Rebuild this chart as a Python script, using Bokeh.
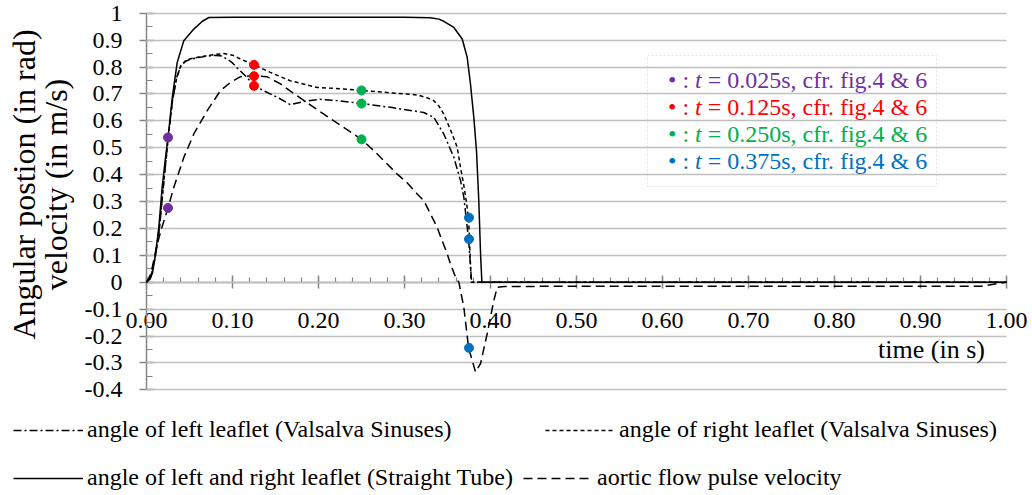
import math
from bokeh.plotting import figure
from bokeh.models import (Range1d, FixedTicker, NumeralTickFormatter, Label, Grid,
                          BoxAnnotation, Legend, LegendItem, ColumnDataSource,
                          CustomJSTickFormatter)
from bokeh.embed import file_html
from bokeh.resources import INLINE

FONT = "Liberation Serif"

# ---------------- data ----------------
left_t = [0, 0.005, 0.01, 0.015, 0.02, 0.025, 0.03, 0.035, 0.04, 0.045, 0.05, 0.06,
          0.07, 0.08, 0.086, 0.0938, 0.1, 0.105, 0.117, 0.125, 0.14, 0.1558, 0.1674,
          0.183, 0.202, 0.2217, 0.25, 0.2837, 0.3223, 0.334, 0.3457, 0.3574, 0.3651,
          0.369, 0.3745, 0.3765, 0.378, 1.0]
left_v = [0, 0.02, 0.09, 0.2, 0.37, 0.53, 0.67, 0.76, 0.805, 0.82, 0.828, 0.835,
          0.84, 0.843, 0.842, 0.83, 0.815, 0.798, 0.761, 0.730, 0.706, 0.681, 0.66,
          0.672, 0.68, 0.675, 0.664, 0.65, 0.631, 0.613, 0.551, 0.464, 0.378,
          0.316, 0.16, 0.07, 0, 0]

right_t = [0, 0.005, 0.01, 0.015, 0.02, 0.025, 0.03, 0.035, 0.04, 0.045, 0.05, 0.06,
           0.07, 0.08, 0.09, 0.1, 0.109, 0.125, 0.144, 0.167, 0.1985, 0.22, 0.25,
           0.2915, 0.315, 0.326, 0.334, 0.34, 0.3457, 0.3554, 0.3613, 0.3651, 0.369,
           0.3717, 0.3745, 0.376, 0.3776, 1.0]
right_v = [0, 0.02, 0.09, 0.2, 0.37, 0.53, 0.67, 0.76, 0.805, 0.822, 0.83, 0.836,
           0.842, 0.847, 0.85, 0.844, 0.83, 0.808, 0.78, 0.749, 0.724, 0.72, 0.713,
           0.702, 0.696, 0.686, 0.675, 0.655, 0.625, 0.551, 0.501, 0.427, 0.36,
           0.303, 0.24, 0.12, 0, 0]

tube_t = [0, 0.004, 0.007, 0.0105, 0.0143, 0.0182, 0.0221, 0.025, 0.03, 0.0357,
          0.0434, 0.055, 0.065, 0.0725, 0.1, 0.2, 0.3, 0.33, 0.34, 0.3457, 0.3574,
          0.3671, 0.3729, 0.3767, 0.3806, 0.3837, 0.3864, 0.3885, 0.39, 0.5, 1.0]
tube_v = [0, 0.01, 0.035, 0.105, 0.204, 0.353, 0.464, 0.538, 0.687, 0.817,
          0.898, 0.941, 0.97, 0.984, 0.985, 0.985, 0.985, 0.983, 0.978, 0.970, 0.947,
          0.904, 0.836, 0.737, 0.613, 0.489, 0.303, 0.1, 0, 0, 0]

aorta_t = [0, 0.005, 0.0116, 0.0175, 0.025, 0.0318, 0.0434, 0.055, 0.0706, 0.086,
           0.0977, 0.1093, 0.125, 0.14, 0.1558, 0.175, 0.1946, 0.2062, 0.25, 0.2643,
           0.276, 0.2915, 0.303, 0.3147, 0.3225, 0.3283, 0.338, 0.3419, 0.3497,
           0.3535, 0.3593, 0.3632, 0.369, 0.3745, 0.3787, 0.3826, 0.3884, 0.3961,
           0.4039, 0.4078, 0.416, 0.5, 0.6, 0.7, 0.8, 0.9, 0.97, 1.0]
aorta_v = [0, 0.03, 0.13, 0.2, 0.276, 0.353, 0.464, 0.551, 0.638, 0.712,
           0.743, 0.764, 0.768, 0.764, 0.737, 0.693, 0.65, 0.625, 0.531, 0.489,
           0.452, 0.402, 0.37, 0.328, 0.303, 0.266, 0.204, 0.17, 0.105,
           0.068, 0.019, 0, -0.093, -0.244, -0.291, -0.334, -0.303, -0.192,
           -0.068, -0.019, -0.016, -0.015, -0.015, -0.015, -0.015, -0.015, -0.015, 0]

marker_t = [0.025, 0.025, 0.125, 0.125, 0.125, 0.25, 0.25, 0.25, 0.375, 0.375, 0.375]
marker_v = [0.538, 0.276, 0.808, 0.766, 0.730, 0.713, 0.664, 0.531, 0.240, 0.160, -0.244]
marker_c = ["#7030A0", "#7030A0", "#FF0000", "#FF0000", "#FF0000",
            "#00B050", "#00B050", "#00B050", "#0070C0", "#0070C0", "#0070C0"]

key_times = ["0.025s", "0.125s", "0.250s", "0.375s"]
key_colors = ["#7030A0", "#FF0000", "#00B050", "#0070C0"]
key_rows = [0.75, 0.65, 0.55, 0.45]

x_ticks = [0, 0.1, 0.2, 0.3, 0.4, 0.5, 0.6, 0.7, 0.8, 0.9, 1.0]
y_ticks = [-0.4, -0.3, -0.2, -0.1, 0, 0.1, 0.2, 0.3, 0.4, 0.5, 0.6, 0.7, 0.8, 0.9, 1.0]
y_tick_labels = ["-0.4", "-0.3", "-0.2", "-0.1", "0", "0.1", "0.2", "0.3", "0.4",
                 "0.5", "0.6", "0.7", "0.8", "0.9", "1"]
x_minor = [round(i * 0.02, 2) for i in range(51)]
y_minor = [round(-0.4 + i * 0.05, 2) for i in range(29)]

series_names = ["angle of left leaflet (Valsalva Sinuses)",
                "angle of right leaflet (Valsalva Sinuses)",
                "angle of left and right leaflet (Straight Tube)",
                "aortic flow pulse velocity"]

# ---------------- layout: the frame covers the whole canvas ----------------
W, H = 1032, 495
X0PX, X1PX = 146.0, 1006.0        # pixel columns of t = 0 and t = 1
Y0PX, Y1PX = 281.7, 12.7          # pixel rows of v = 0 and v = 1
sx = (X1PX - X0PX)
sy = (Y0PX - Y1PX)
x_start, x_end = -X0PX / sx, (W - X0PX) / sx
y_start, y_end = (Y0PX - H) / sy, Y0PX / sy


def py2v(py):
    return (Y0PX - py) / sy


p = figure(width=W, height=H, output_backend="svg", toolbar_location=None,
           x_range=Range1d(x_start, x_end), y_range=Range1d(y_start, y_end),
           min_border=0, min_border_left=0, min_border_right=0,
           min_border_top=0, min_border_bottom=0)
p.outline_line_color = None
p.xgrid.visible = False
p.ygrid.visible = False

# horizontal grid limited to the data area
if "cross_bounds" in Grid.properties():
    g = Grid(dimension=1, ticker=FixedTicker(ticks=y_ticks), cross_bounds=(0, 1),
             grid_line_color="#BFBFBF", grid_line_width=1.5, level="underlay")
    p.add_layout(g)
else:
    p.segment(x0=[0] * len(y_ticks), x1=[1] * len(y_ticks), y0=y_ticks, y1=y_ticks,
              line_color="#BFBFBF", line_width=1.5, level="underlay")

AX = "#868686"
xa = p.xaxis[0]
xa.ticker = FixedTicker(ticks=x_ticks, minor_ticks=x_minor)
xa.formatter = NumeralTickFormatter(format="0.00")
xa.fixed_location = 0
xa.bounds = (0, 1)
xa.level = "underlay"
xa.axis_line_color = AX
xa.axis_line_width = 1.5
xa.major_tick_line_color = AX
xa.minor_tick_line_color = AX
xa.major_tick_line_width = 1.5
xa.minor_tick_line_width = 1.2
xa.major_tick_in = 7
xa.major_tick_out = 6
xa.minor_tick_in = 5
xa.minor_tick_out = 0
xa.major_label_standoff = 25
xa.major_label_text_font = FONT
xa.major_label_text_font_size = "24px"
xa.major_label_text_color = "black"

ya = p.yaxis[0]
ya.ticker = FixedTicker(ticks=y_ticks, minor_ticks=y_minor)
ya.formatter = CustomJSTickFormatter(
    args=dict(tick_values=y_ticks, tick_texts=y_tick_labels),
    code=("const i = tick_values.findIndex(v => Math.abs(v - tick) < 1e-6);"
          " return i >= 0 ? tick_texts[i] : '';"))
ya.fixed_location = 0
ya.bounds = (-0.4, 1.0)
ya.level = "underlay"
ya.axis_line_color = AX
ya.axis_line_width = 1.5
ya.major_tick_line_color = AX
ya.minor_tick_line_color = AX
ya.major_tick_line_width = 1.5
ya.minor_tick_line_width = 1.2
ya.major_tick_in = 7
ya.major_tick_out = 7
ya.minor_tick_in = 6
ya.minor_tick_out = 0
ya.major_label_standoff = 17
ya.major_label_text_font = FONT
ya.major_label_text_font_size = "24px"
ya.major_label_text_color = "black"

# ---------------- curves ----------------
common = dict(line_color="black", line_width=1.5, line_join="round")
r_left = p.line(left_t, left_v, line_dash="8 3 2 3", **common)
r_right = p.line(right_t, right_v, line_dash="4 3", **common)
r_tube = p.line(tube_t, tube_v, **common)
r_aorta = p.line(aorta_t, aorta_v, line_dash="9 5", **common)

src = ColumnDataSource(dict(t=marker_t, v=marker_v, c=marker_c))
p.scatter("t", "v", source=src, size=9, fill_color="c", line_color="c")

# ---------------- bottom legend (two rows) ----------------
def add_leg(renderer, name, x, y):
    leg = Legend(items=[LegendItem(label=name, renderers=[renderer])],
                 location=(x, y), orientation="horizontal", padding=0, margin=0,
                 border_line_color=None, background_fill_alpha=0,
                 glyph_width=70, glyph_height=20, label_standoff=4,
                 label_text_font=FONT, label_text_font_size="24px",
                 label_text_color="black")
    p.add_layout(leg)

add_leg(r_left, series_names[0], 13, 52)
add_leg(r_right, series_names[1], 545, 52)
add_leg(r_tube, series_names[2], 13, 4)
add_leg(r_aorta, series_names[3], 523, 4)

# ---------------- marker key box ----------------
p.add_layout(BoxAnnotation(left=647, right=936, left_units="screen", right_units="screen",
                           top=py2v(55), bottom=py2v(186), fill_alpha=0,
                           line_color="#A6A6A6", line_width=1, line_dash="2 2"))
KX = 667.5
KF = 24
for tt, col, yy in zip(key_times, key_colors, key_rows):
    base = dict(y=yy, x_units="screen", y_units="data", text_font=FONT,
                text_font_size=f"{KF}px", text_color=col, text_baseline="middle")
    p.add_layout(Label(x=KX, text="\u2022 :", **base))
    p.add_layout(Label(x=KX + 1.128 * KF, text="t", text_font_style="italic", **base))
    p.add_layout(Label(x=KX + 1.656 * KF, text="= " + tt + ", cfr. fig.4 & 6", **base))

# ---------------- axis titles ----------------
p.add_layout(Label(x=931, y=py2v(349), x_units="screen", y_units="data",
                   text="time (in s)", text_font=FONT, text_font_size="26px",
                   text_color="black", text_align="center", text_baseline="middle"))
p.add_layout(Label(x=23, y=py2v(184), x_units="screen", y_units="data", angle=math.pi / 2,
                   text="Angular postion (in rad)", text_font=FONT, text_font_size="32px",
                   text_color="black", text_align="center", text_baseline="middle"))
p.add_layout(Label(x=55, y=py2v(184), x_units="screen", y_units="data", angle=math.pi / 2,
                   text="velocity (in m/s)", text_font=FONT, text_font_size="32px",
                   text_color="black", text_align="center", text_baseline="middle"))

open("out.html", "w").write(file_html(p, INLINE))
